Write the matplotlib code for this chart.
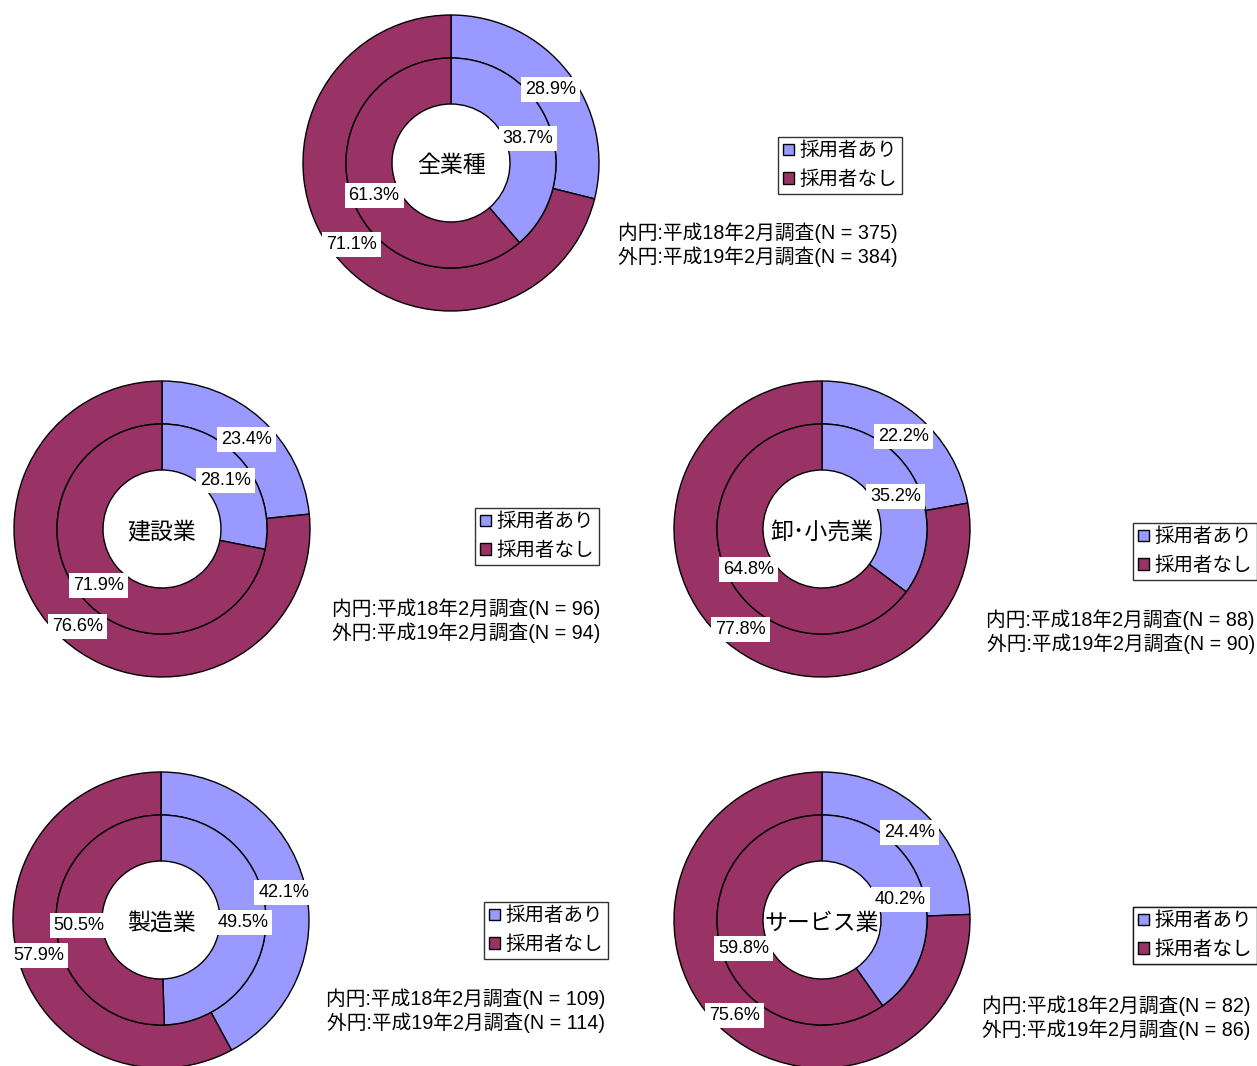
import matplotlib
matplotlib.use("Agg")
import matplotlib.pyplot as plt
from matplotlib.patches import Patch
from matplotlib import transforms

FAM = ['Liberation Sans', 'Noto Sans CJK JP', 'DejaVu Sans']
plt.rcParams['font.family'] = FAM

# ---- data ----
categories = ["全業種", "建設業", "卸･小売業", "製造業", "サービス業"]
series_names = ["採用者あり", "採用者なし"]
inner_yes = [38.7, 28.1, 35.2, 49.5, 40.2]   # 平成18年2月調査
inner_no = [61.3, 71.9, 64.8, 50.5, 59.8]
outer_yes = [28.9, 23.4, 22.2, 42.1, 24.4]   # 平成19年2月調査
outer_no = [71.1, 76.6, 77.8, 57.9, 75.6]
n_inner = [375, 96, 88, 109, 82]
n_outer = [384, 94, 90, 114, 86]

# ---- layout (pixel coordinates, y from top) ----
W, H = 1257, 1066
centers = [(451, 163), (162, 529), (822, 529), (161, 920), (822, 920)]
legend_pos = [(778, 137), (475, 508), (1133, 523), (484, 902), (1133, 907)]
note_pos = [(898, 233), (600, 609), (1255, 620), (605, 999), (1250, 1006)]

R_OUT, R_MID, R_HOLE = 148, 105, 59
colors = ["#9999FF", "#993366"]

fig = plt.figure(figsize=(W / 100, H / 100), dpi=100)
ax = fig.add_axes([0, 0, 1, 1])
ax.set_xlim(0, W)
ax.set_ylim(0, H)
ax.set_aspect('equal')
ax.axis('off')

label_box = dict(boxstyle='square,pad=0.22', fc='white', ec='none')
shift = transforms.offset_copy(ax.transData, fig=fig, x=0, y=-4, units='dots')

for i, cat in enumerate(categories):
    cx, cy = centers[i]
    cy = H - cy
    wp = dict(edgecolor='black', linewidth=1.0)
    tp = dict(fontsize=13, ha='center', va='center', bbox=label_box, transform=shift)
    # outer ring (H19)
    ax.pie([outer_yes[i], outer_no[i]], colors=colors, startangle=90, counterclock=False,
           radius=R_OUT, center=(cx, cy), frame=True,
           wedgeprops=dict(width=R_OUT - R_MID, **wp),
           labels=[f"{outer_yes[i]:.1f}%", f"{outer_no[i]:.1f}%"],
           labeldistance=(R_OUT + R_MID) / 2 / R_OUT, textprops=tp)
    # inner ring (H18)
    ax.pie([inner_yes[i], inner_no[i]], colors=colors, startangle=90, counterclock=False,
           radius=R_MID, center=(cx, cy), frame=True,
           wedgeprops=dict(width=R_MID - R_HOLE, **wp),
           labels=[f"{inner_yes[i]:.1f}%", f"{inner_no[i]:.1f}%"],
           labeldistance=(R_MID + R_HOLE) / 2 / R_MID, textprops=tp)
    for t in ax.texts[-4:]:
        t.set_horizontalalignment('center')
        t.set_verticalalignment('center')
    ax.text(cx, cy - 3, cat, fontsize=16.5, ha='center', va='center', zorder=5)

    # legend
    lx, ly = legend_pos[i]
    handles = [Patch(facecolor=c, edgecolor='black', linewidth=1.0) for c in colors]
    leg = ax.legend(handles, series_names, loc='upper left',
                    bbox_to_anchor=(lx, H - ly), bbox_transform=ax.transData,
                    fontsize=14, frameon=True, fancybox=False, borderaxespad=0,
                    handlelength=0.55, handleheight=0.55, handletextpad=0.3,
                    borderpad=0.25, labelspacing=0.5)
    leg.get_frame().set_edgecolor('black')
    leg.get_frame().set_linewidth(1.0)
    ax.add_artist(leg)

    # note
    nx, ny = note_pos[i]
    ax.text(nx, H - ny, f"内円:平成18年2月調査(N = {n_inner[i]})", fontsize=14.2,
            ha='right', va='center')
    ax.text(nx, H - ny - 24, f"外円:平成19年2月調査(N = {n_outer[i]})", fontsize=14.2,
            ha='right', va='center')

ax.set_xlim(0, W)
ax.set_ylim(0, H)
ax.axis('off')
fig.savefig("out.png", dpi=100)
